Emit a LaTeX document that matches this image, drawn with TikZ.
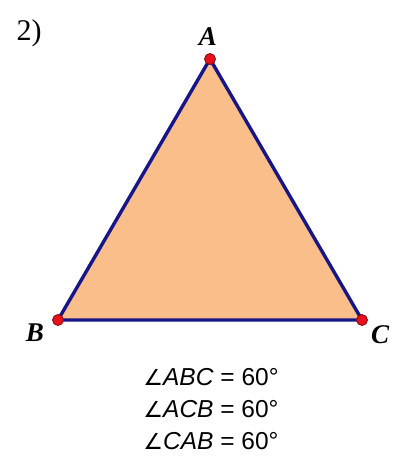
\documentclass[tikz,border=0pt]{standalone}
\usepackage{fontspec}
\setmainfont{Liberation Serif}
\setsansfont{Liberation Sans}
\newfontfamily\symfont{DejaVu Sans}
\definecolor{triFill}{HTML}{F9BE8A}
\definecolor{triEdge}{HTML}{16168A}
\definecolor{ptRed}{HTML}{E8101A}
\tikzset{
  pt/.style={circle, fill=ptRed, draw=ptRed!55!black, line width=0.8pt, inner sep=0pt, minimum size=11pt},
  vlabel/.style={font=\fontsize{27}{29}\selectfont\bfseries\itshape, inner sep=0pt},
  angtext/.style={font=\sffamily\fontsize{24.5}{26}\selectfont, inner sep=0pt}
}
\begin{document}
\begin{tikzpicture}[x=1pt,y=1pt]
\useasboundingbox (0,0) rectangle (398,457);
\coordinate (A) at (210,398);
\coordinate (B) at (58,137);
\coordinate (C) at (362,137);
\fill[triFill] (A) -- (B) -- (C) -- cycle;
\draw[triEdge, line width=3.4pt, line join=round] (A) -- (B) -- (C) -- cycle;
\node[pt] (pA) at (A) {};
\node[pt] (pB) at (B) {};
\node[pt] (pC) at (C) {};
\node[font=\fontsize{30}{32}\selectfont, inner sep=0pt] (num) at (29,424) {2)};
\node[vlabel] (lA) at (208,420) {A};
\node[vlabel] (lB) at (35,124) {B};
\node[vlabel] (lC) at (380,122) {C};
\node[angtext] (t1) at (211,80) {{\symfont\fontsize{22}{24}\selectfont∠}\textit{ABC} = 60°};
\node[angtext] (t2) at (211,48) {{\symfont\fontsize{22}{24}\selectfont∠}\textit{ACB} = 60°};
\node[angtext] (t3) at (211,16) {{\symfont\fontsize{22}{24}\selectfont∠}\textit{CAB} = 60°};
\end{tikzpicture}
\end{document}
